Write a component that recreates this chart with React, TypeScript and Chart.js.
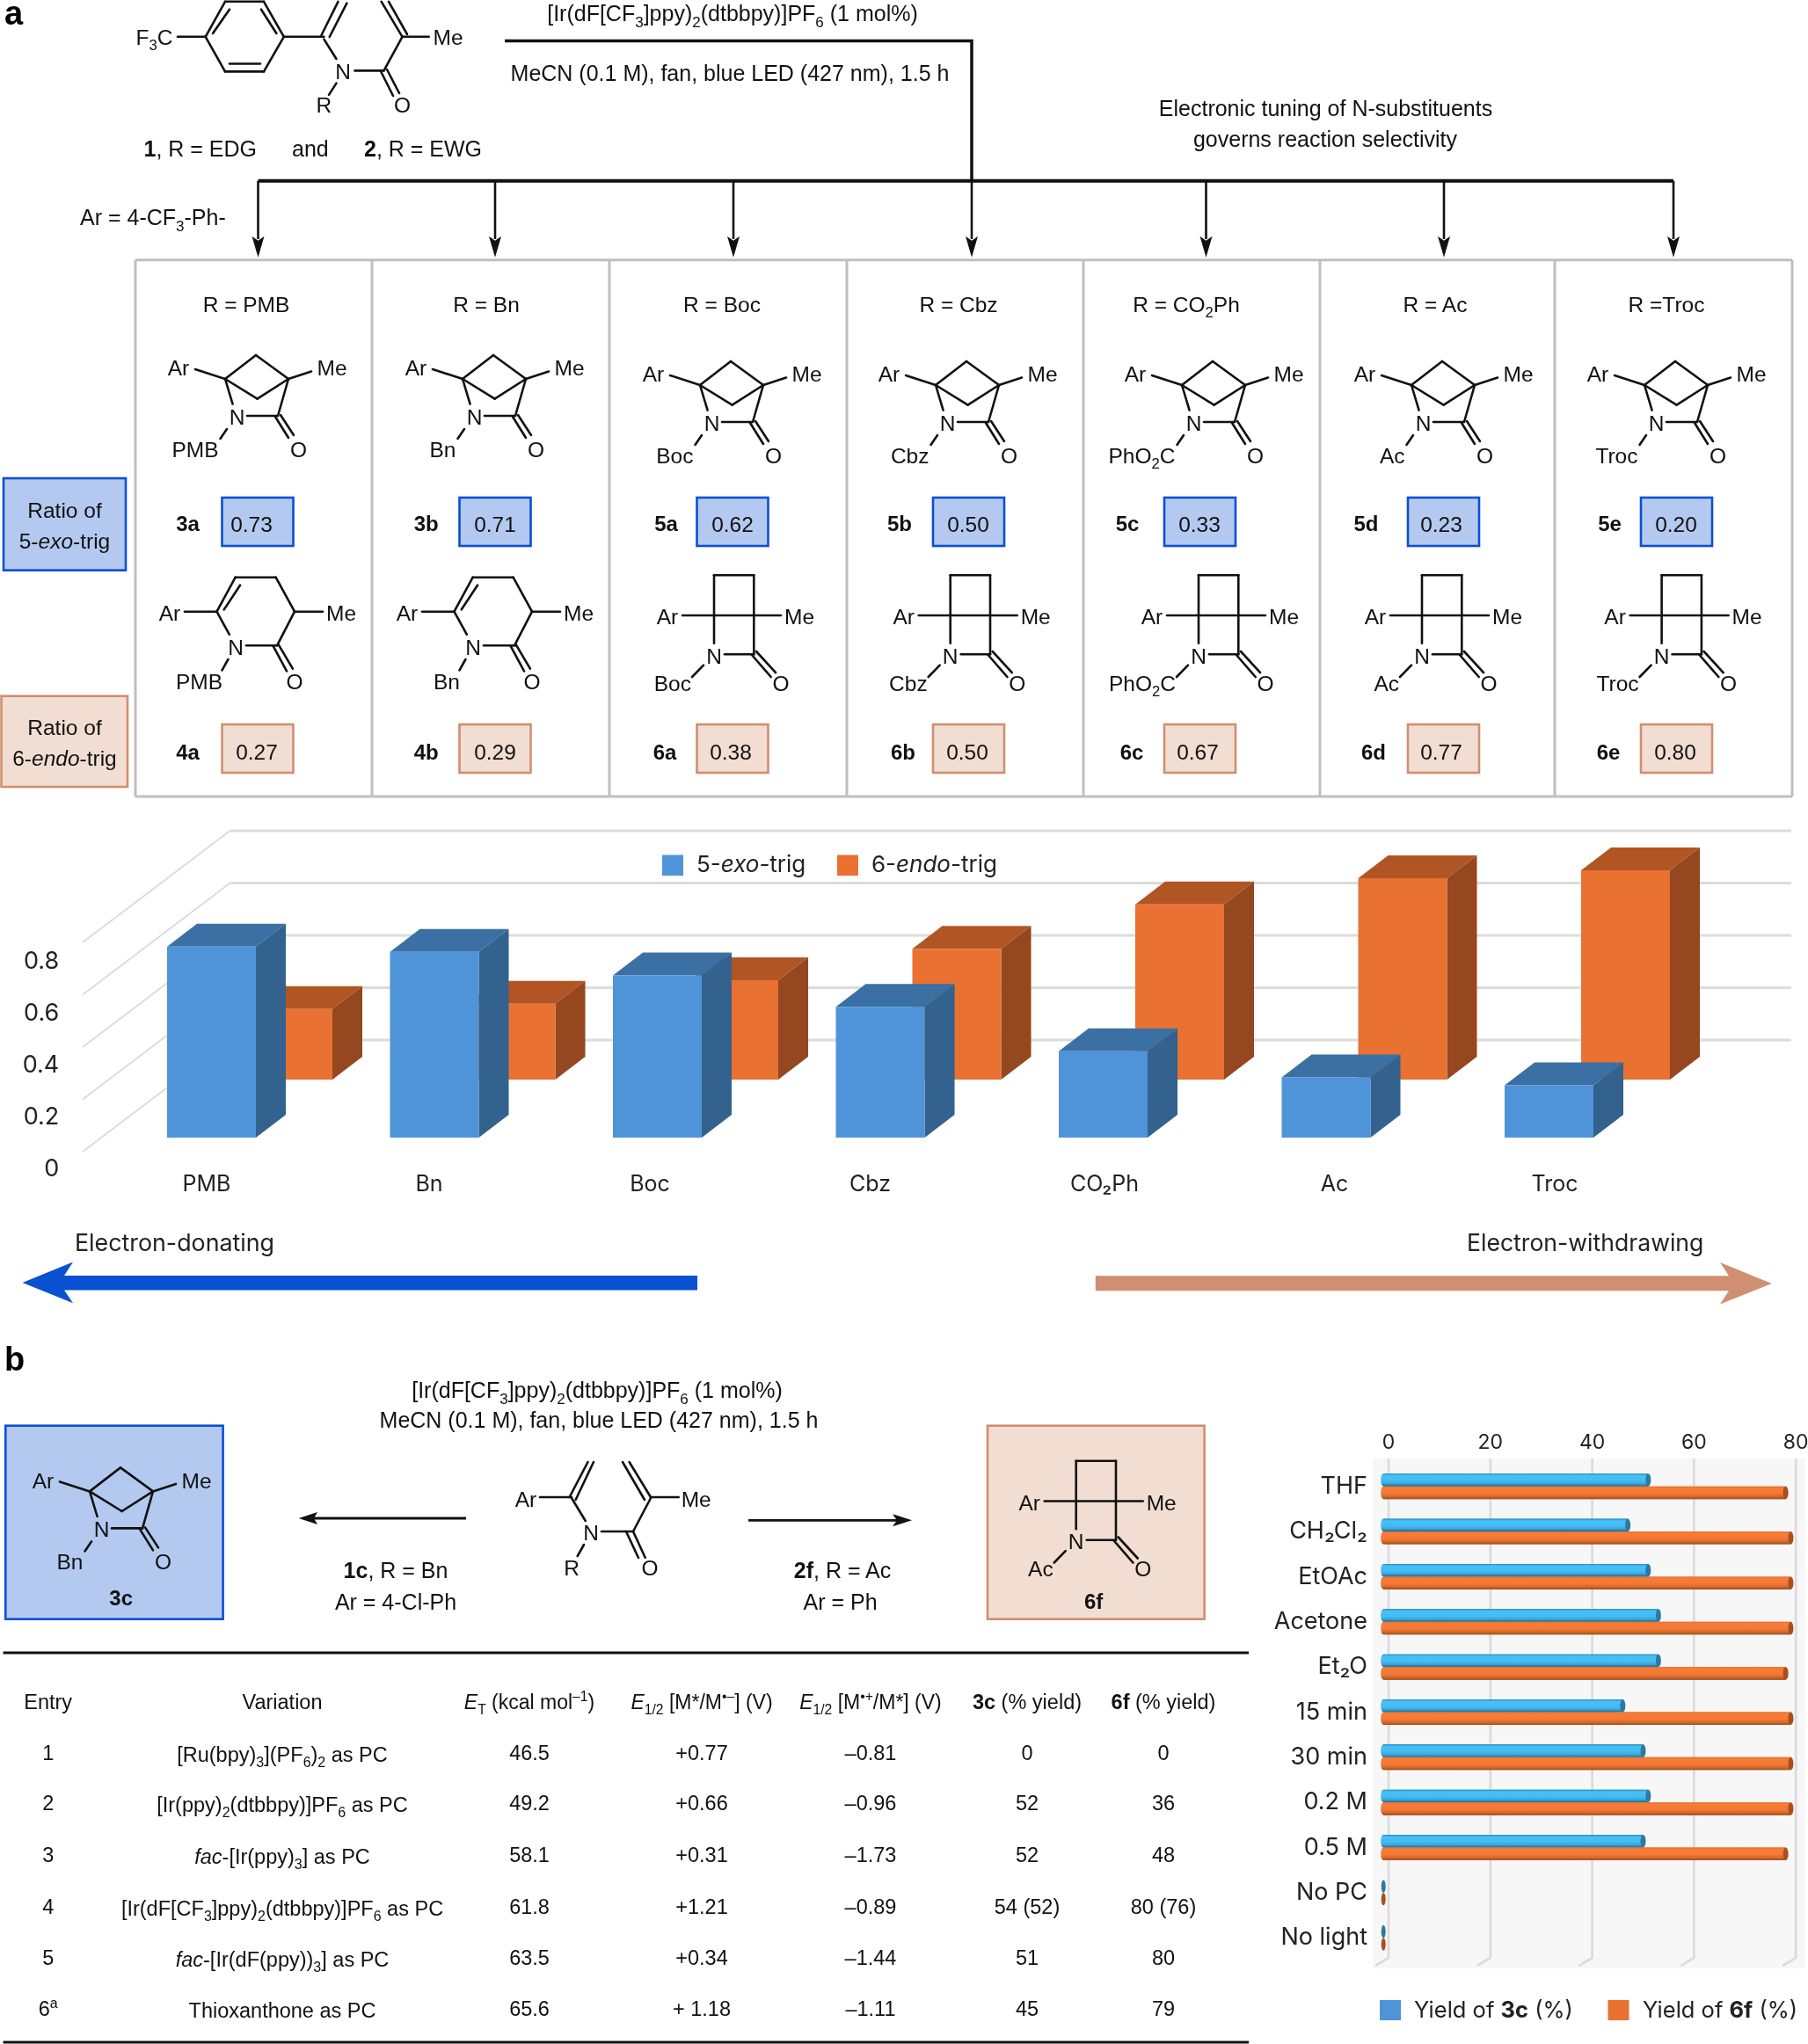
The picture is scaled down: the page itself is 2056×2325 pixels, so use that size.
import React, { useEffect, useRef } from "react";
import Chart from "chart.js/auto";

/* ---------- data ---------- */
const substituents = ["PMB", "Bn", "Boc", "Cbz", "CO₂Ph", "Ac", "Troc"];
const exoRatio = [0.73, 0.71, 0.62, 0.5, 0.33, 0.23, 0.2];
const endoRatio = [0.27, 0.29, 0.38, 0.5, 0.67, 0.77, 0.8];
const ratioTicks = [0, 0.2, 0.4, 0.6, 0.8];

const conditions = ["THF", "CH₂Cl₂", "EtOAc", "Acetone", "Et₂O", "15 min", "30 min", "0.2 M", "0.5 M", "No PC", "No light"];
const yield3c = [51, 47, 51, 53, 53, 46, 50, 51, 50, 0, 0];
const yield6f = [78, 79, 79, 79, 78, 79, 79, 79, 78, 0, 0];
const yieldTicks = [0, 20, 40, 60, 80];

const tableHeader = ["Entry", "Variation", "~E~_{T} (kcal mol^{–1})", "~E~_{1/2} [M*/M^{•–}] (V)", "~E~_{1/2} [M^{•+}/M*] (V)", "#3c# (% yield)", "#6f# (% yield)"];
const tableRows = [
  ["1", "[Ru(bpy)_{3}](PF_{6})_{2} as PC", "46.5", "+0.77", "–0.81", "0", "0"],
  ["2", "[Ir(ppy)_{2}(dtbbpy)]PF_{6} as PC", "49.2", "+0.66", "–0.96", "52", "36"],
  ["3", "~fac~-[Ir(ppy)_{3}] as PC", "58.1", "+0.31", "–1.73", "52", "48"],
  ["4", "[Ir(dF[CF_{3}]ppy)_{2}(dtbbpy)]PF_{6} as PC", "61.8", "+1.21", "–0.89", "54 (52)", "80 (76)"],
  ["5", "~fac~-[Ir(dF(ppy))_{3}] as PC", "63.5", "+0.34", "–1.44", "51", "80"],
  ["6^{a}", "Thioxanthone as PC", "65.6", "+ 1.18", "–1.11", "45", "79"],
];

const panelTitles = ["R = PMB", "R = Bn", "R = Boc", "R = Cbz", "R = CO_{2}Ph", "R = Ac", "R =Troc"];
const rLabels = ["PMB", "Bn", "Boc", "Cbz", "PhO_{2}C", "Ac", "Troc"];
const exoNames = ["3a", "3b", "5a", "5b", "5c", "5d", "5e"];
const endoNames = ["4a", "4b", "6a", "6b", "6c", "6d", "6e"];
const exoValues = ["0.73", "0.71", "0.62", "0.50", "0.33", "0.23", "0.20"];
const endoValues = ["0.27", "0.29", "0.38", "0.50", "0.67", "0.77", "0.80"];

/* ---------- layout constants ---------- */
const SANS = '"Liberation Sans", Arial, sans-serif';
const INTER = 'Inter, "Noto Sans", sans-serif';
const BLUE_EDGE = "#0a50d2";
const BLUE_FILL = "#b4c9f0";
const PINK_EDGE = "#cf8f70";
const PINK_FILL = "#f2ddd2";
const GRID = "#dcdcdc";

const dividerX = [154, 423, 693, 963, 1232, 1501, 1768, 2038];
const dropX = [293.5, 563, 834, 1105, 1371.5, 1642, 1903];
const titleX = [280, 553, 821, 1090, 1349, 1632, 1895];
const boxL = [252.5, 522.5, 792.5, 1061, 1324, 1601, 1866];
const exoNameX = [213.5, 484.7, 757.5, 1023, 1282, 1553.5, 1830.6];
const endoNameX = [213.5, 484.7, 756, 1027, 1287, 1562, 1829];
const exoValX = [286, 563, 833, 1101, 1364, 1639, 1906];
const endoValX = [292, 563, 831, 1100, 1362, 1639, 1905];
const bicycleOffset: number[][] = [[0, 0], [270, 0], [540, 7], [808, 7], [1088, 7], [1349, 7], [1614, 7]];
const azetidineOffset = [0, 268.7, 551, 805, 1077.6];
const xLabelNudge = [-49, -49.5, -52, -55, -42, -34, -37];
const tableColX = [54.7, 321, 602, 798, 990, 1168, 1323];
const tableRowY = [2001.7, 2059, 2117.7, 2176.7, 2235, 2292.7];

/* ---------- rich text ---------- */
function Rich({ x, y, s, size = 25, anchor = "middle", fill = "#111", family = SANS, weight }: any) {
  const re = /_\{([^}]*)\}|\^\{([^}]*)\}|#([^#]+)#|~([^~]+)~|([^_^#~]+)/g;
  const parts: any[] = [];
  let m: any;
  let shift = 0;
  let i = 0;
  while ((m = re.exec(s))) {
    let target = 0;
    let props: any = {};
    let t = m[0];
    if (m[1] !== undefined) { target = size * 0.26; props.fontSize = size * 0.68; t = m[1]; }
    else if (m[2] !== undefined) { target = -size * 0.38; props.fontSize = size * 0.68; t = m[2]; }
    else if (m[3] !== undefined) { props.fontWeight = "bold"; t = m[3]; }
    else if (m[4] !== undefined) { props.fontStyle = "italic"; t = m[4]; }
    parts.push(<tspan key={i++} dy={target - shift} {...props}>{t}</tspan>);
    shift = target;
  }
  return (
    <text x={x} y={y} fontSize={size} textAnchor={anchor} fill={fill} fontFamily={family} fontWeight={weight} style={{ whiteSpace: "pre" }}>
      {parts}
    </text>
  );
}

function Bonds({ segs, dx = 0, dy = 0, w = 2.6 }: any) {
  return (
    <g stroke="#111" strokeWidth={w} strokeLinecap="round" fill="none">
      {segs.map((s: number[], i: number) => (
        <line key={i} x1={s[0] + dx} y1={s[1] + dy} x2={s[2] + dx} y2={s[3] + dy} />
      ))}
    </g>
  );
}

const CHEM = 24.5;
const Atom = ({ x, cy, s, anchor = "middle" }: any) => <Rich x={x} y={cy + 8.6} s={s} size={CHEM} anchor={anchor} />;

const bicycleSegs = [
  [222, 420, 256, 431], [256, 431, 291, 404], [291, 404, 328, 431], [256, 431, 292.6, 453.6], [292.6, 453.6, 328, 431],
  [256, 431, 264.6, 459.6], [328, 431, 316, 473], [281, 473, 316, 473], [313, 474, 328, 498], [319, 472, 334, 495],
  [258, 488, 250.5, 499], [328, 431, 354, 422.5],
];
function Bicycle({ dx, dy, r }: any) {
  return (
    <g>
      <Bonds segs={bicycleSegs} dx={dx} dy={dy} />
      <Atom x={203 + dx} cy={418.6 + dy} s="Ar" />
      <Atom x={377.5 + dx} cy={418.6 + dy} s="Me" />
      <Atom x={269.5 + dx} cy={474 + dy} s="N" />
      <Atom x={339.6 + dx} cy={511 + dy} s="O" />
      <Atom x={248.5 + dx} cy={511 + dy} s={r} anchor="end" />
    </g>
  );
}
const cyclohexSegs = [
  [210, 695.7, 246.5, 695.7], [246.5, 695.7, 267.7, 656.7], [267.7, 656.7, 313.6, 656.7], [313.6, 656.7, 335, 695.7],
  [335, 695.7, 315, 734.3], [254.8, 693.3, 273, 665.7], [246.5, 695.7, 260.8, 721.7], [280, 734.3, 315, 734.3],
  [310.4, 734.3, 326, 763.3], [316.8, 733.3, 332.9, 760.7], [335, 695.7, 367, 695.7], [259.4, 750, 252.5, 762.3],
];
function Cyclohex({ dx, r }: any) {
  return (
    <g>
      <Bonds segs={cyclohexSegs} dx={dx} />
      <Atom x={193 + dx} cy={697.7} s="Ar" />
      <Atom x={388 + dx} cy={697.7} s="Me" />
      <Atom x={268 + dx} cy={736} s="N" />
      <Atom x={335 + dx} cy={775} s="O" />
      <Atom x={253 + dx} cy={775} s={r} anchor="end" />
    </g>
  );
}
const azetidineSegs = [
  [776, 700, 888, 700], [812, 654.3, 857.3, 654.3], [812, 654.3, 812, 731.7], [857.3, 654.3, 857.3, 744.3], [824, 744.3, 857.3, 744.3],
  [855, 745, 876.7, 770], [860, 741, 882, 765], [800, 756.7, 787, 770],
];
function Azetidine({ dx, dy = 0, r }: any) {
  return (
    <g>
      <Bonds segs={azetidineSegs} dx={dx} dy={dy} />
      <Atom x={759 + dx} cy={701.7 + dy} s="Ar" />
      <Atom x={909 + dx} cy={701.7 + dy} s="Me" />
      <Atom x={812 + dx} cy={746 + dy} s="N" />
      <Atom x={888 + dx} cy={777 + dy} s="O" />
      <Atom x={786 + dx} cy={777 + dy} s={r} anchor="end" />
    </g>
  );
}

const reactantASegs = [
  [202, 41.8, 233.7, 41.8], [233.7, 41.8, 256, 1.8], [256, 1.8, 300, 1.8], [300, 1.8, 322.8, 41.8], [322.8, 41.8, 300, 81.4],
  [300, 81.4, 256, 81.4], [256, 81.4, 233.7, 41.8], [261, 10.7, 242, 38], [297, 10.7, 314.4, 38], [261, 72.5, 296, 72.5],
  [322.8, 41.8, 368.4, 41.8], [365, 41, 384.5, 1.8], [374.7, 42, 394.4, 3.6], [368.4, 44.6, 382.5, 67], [403.5, 80.4, 436.5, 80.4],
  [433, 81, 447, 109], [440, 79, 454, 106], [382.5, 94.6, 374, 107.9], [436.5, 80.4, 457.5, 41.8], [457.5, 41.8, 433.7, 1.8],
  [463, 39, 442, 1.8], [457.5, 41.8, 487.7, 41.8],
];
const reactantBSegs = [
  [614, 1703, 650, 1703], [647.6, 1703, 668.5, 1663], [654.6, 1706, 675, 1663], [650, 1704, 665.8, 1730], [684, 1742, 720, 1742],
  [720, 1742, 733.7, 1771.7], [712, 1742, 726, 1772], [664, 1757, 656.7, 1770], [720, 1742, 740, 1704], [740, 1703, 715.6, 1663],
  [733, 1706, 708, 1663], [740, 1703, 771.7, 1703],
];

function Arrowhead({ x, tip }: any) {
  return <polygon points={`${x},${tip} ${x - 7},${tip - 24} ${x},${tip - 19} ${x + 7},${tip - 24}`} fill="#111" />;
}

/* ---------- chart helpers ---------- */
function ChartCanvas({ make, style, width, height }: any) {
  const ref = useRef<HTMLCanvasElement>(null);
  useEffect(() => {
    const chart = new Chart(ref.current as any, make());
    return () => chart.destroy();
  }, []);
  return <canvas ref={ref} width={width} height={height} style={{ position: "absolute", display: "block", ...style }} />;
}

const clearPad = (s: any) => {
  s.paddingTop = 0;
  s.paddingBottom = 0;
  s.paddingLeft = 0;
  s.paddingRight = 0;
};

const PX_PER_UNIT = 297.5;
const C1_TOP = 935;
const C1_BOTTOM = 1330;
const C1_CANVAS_TOP = 930;
const BASE_EXO = 1294;
const BASE_ENDO = 1228;
const LABEL_ZERO = 1330;

function makeRatioChart() {
  const depthPlugin = {
    id: "depth3d",
    beforeDatasetDraw(chart: any, args: any) {
      const ctx = chart.ctx;
      const tops = ["#3b70a4", "#b25525"];
      const sides = ["#33628e", "#95471f"];
      const dx = 34;
      const dy = 26;
      ctx.save();
      args.meta.data.forEach((bar: any) => {
        const p = bar.getProps(["x", "y", "base", "width"], true);
        const l = p.x - p.width / 2;
        const r = p.x + p.width / 2;
        ctx.fillStyle = tops[args.index];
        ctx.beginPath();
        ctx.moveTo(l, p.y);
        ctx.lineTo(l + dx, p.y - dy);
        ctx.lineTo(r + dx, p.y - dy);
        ctx.lineTo(r, p.y);
        ctx.closePath();
        ctx.fill();
        ctx.fillStyle = sides[args.index];
        ctx.beginPath();
        ctx.moveTo(r, p.y);
        ctx.lineTo(r + dx, p.y - dy);
        ctx.lineTo(r + dx, p.base - dy);
        ctx.lineTo(r, p.base);
        ctx.closePath();
        ctx.fill();
      });
      ctx.restore();
    },
  };
  const wallPlugin = {
    id: "wall3d",
    beforeDatasetsDraw(chart: any) {
      const ctx = chart.ctx;
      const y = chart.scales.y;
      ctx.save();
      ctx.strokeStyle = GRID;
      ratioTicks.forEach((v) => {
        const p = y.getPixelForValue(v);
        ctx.lineWidth = 2;
        ctx.beginPath();
        ctx.moveTo(94, p + 16);
        ctx.lineTo(261.5, p - 111);
        ctx.stroke();
        ctx.lineWidth = 3;
        ctx.beginPath();
        ctx.moveTo(261.5, p - 111);
        ctx.lineTo(2037, p - 111);
        ctx.stroke();
      });
      ctx.restore();
    },
    beforeDraw(chart: any) {
      const items = chart.scales.x.getLabelItems();
      if (items.__nudged) return;
      items.forEach((it: any, i: number) => { it.options.translation[0] += xLabelNudge[i]; });
      items.__nudged = true;
    },
  };
  const top = C1_TOP - C1_CANVAS_TOP;
  const bottom = C1_BOTTOM - C1_CANVAS_TOP;
  const span = (zero: number, k: number) => ({
    min: -(bottom - (zero - C1_CANVAS_TOP)) / k,
    max: (zero - C1_CANVAS_TOP - top) / k,
  });
  return {
    type: "bar",
    data: {
      labels: substituents,
      datasets: [
        { label: "5-exo-trig", data: exoRatio, backgroundColor: "#4f94d8", yAxisID: "y", categoryPercentage: 174 / 253.5, barPercentage: 101 / 87 },
        { label: "6-endo-trig", data: endoRatio, backgroundColor: "#e97132", yAxisID: "y2", categoryPercentage: 174 / 253.5, barPercentage: 101 / 87 },
      ],
    },
    plugins: [wallPlugin, depthPlugin],
    options: {
      animation: false,
      responsive: false,
      devicePixelRatio: 1,
      layout: { padding: { top, right: 2056 - 1931.75, left: 0, bottom: 0 } },
      plugins: { legend: { display: false }, tooltip: { enabled: false } },
      scales: {
        x: {
          grid: { display: false, drawTicks: false },
          border: { display: false },
          afterFit: (s: any) => { s.height = 40; clearPad(s); },
          ticks: { font: { family: INTER, size: 25 }, color: "#222", padding: 2, maxRotation: 0, autoSkip: false },
        },
        y: { display: false, afterFit: clearPad, ...span(BASE_EXO, PX_PER_UNIT) },
        y2: { display: false, afterFit: clearPad, ...span(BASE_ENDO, PX_PER_UNIT) },
        yLabels: {
          position: "left",
          ...span(LABEL_ZERO, 295),
          min: 0,
          grid: { display: false, drawTicks: false },
          border: { display: false },
          afterFit: (s: any) => { s.width = 157.25; clearPad(s); },
          afterBuildTicks: (s: any) => { s.ticks = ratioTicks.map((value) => ({ value })); },
          ticks: { font: { family: INTER, size: 27 }, color: "#222", padding: 90, callback: (v: any) => String(v) },
        },
      },
    },
  };
}

const C2_LEFT = 1420;
const C2_TOP = 1610;
function makeYieldChart() {
  const PX = 5.79;
  const ZERO = 1579;
  const panelPlugin = {
    id: "panel3d",
    beforeDraw(chart: any) {
      const { ctx, chartArea: a, scales } = chart;
      ctx.save();
      ctx.fillStyle = "#f7f7f7";
      ctx.fillRect(a.left, a.top - 6, a.right - a.left, a.bottom - a.top + 15);
      ctx.strokeStyle = GRID;
      ctx.lineWidth = 2.8;
      yieldTicks.forEach((v) => {
        const x = scales.x.getPixelForValue(v);
        ctx.beginPath();
        ctx.moveTo(x, a.top - 6);
        ctx.lineTo(x, a.bottom - 3);
        ctx.lineTo(x - 15, a.bottom + 6);
        ctx.stroke();
      });
      ctx.restore();
    },
  };
  const cylinderPlugin = {
    id: "cylinder",
    afterDatasetsDraw(chart: any) {
      const ctx = chart.ctx;
      const skins = [
        { stops: ["#2a86b2", "#46c0f8", "#44bcf4", "#3aa8dc", "#1f6489"], cap: "#2c7aa0" },
        { stops: ["#e8702f", "#f87c38", "#f47935", "#d96a2c", "#9a4d20"], cap: "#a84f20" },
      ];
      chart.getSortedVisibleDatasetMetas().forEach((meta: any) => {
        const skin = skins[meta.index];
        meta.data.forEach((bar: any, i: number) => {
          const p = bar.getProps(["x", "y", "base", "height"], true);
          const h = p.height;
          const t = p.y - h / 2;
          ctx.save();
          if (chart.data.datasets[meta.index].data[i] === 0) {
            ctx.fillStyle = skin.cap;
            ctx.beginPath();
            ctx.ellipse(p.base, p.y, 2.5, h / 2, 0, 0, Math.PI * 2);
            ctx.fill();
            ctx.restore();
            return;
          }
          const g = ctx.createLinearGradient(0, t, 0, t + h);
          g.addColorStop(0, skin.stops[0]);
          g.addColorStop(0.15, skin.stops[1]);
          g.addColorStop(0.55, skin.stops[2]);
          g.addColorStop(0.78, skin.stops[3]);
          g.addColorStop(1, skin.stops[4]);
          ctx.fillStyle = g;
          ctx.beginPath();
          ctx.ellipse(p.base, p.y, 3, h / 2, 0, Math.PI / 2, (Math.PI * 3) / 2);
          ctx.lineTo(p.x, t);
          ctx.lineTo(p.x, t + h);
          ctx.closePath();
          ctx.fill();
          ctx.fillStyle = skin.cap;
          ctx.beginPath();
          ctx.ellipse(p.x, p.y, 3, h / 2, 0, 0, Math.PI * 2);
          ctx.fill();
          ctx.restore();
        });
      });
    },
  };
  const base = -1;
  const hideZero = (color: string) => (c: any) => (c.raw === 0 ? "transparent" : color);
  return {
    type: "bar",
    data: {
      labels: conditions,
      datasets: [
        { label: "Yield of 3c (%)", data: yield3c, base, backgroundColor: hideZero("#44bcf4"), categoryPercentage: 29 / 51.4, barPercentage: 1 },
        { label: "Yield of 6f (%)", data: yield6f, base, backgroundColor: hideZero("#f47935"), categoryPercentage: 29 / 51.4, barPercentage: 1 },
      ],
    },
    plugins: [panelPlugin, cylinderPlugin],
    options: {
      indexAxis: "y",
      animation: false,
      responsive: false,
      devicePixelRatio: 1,
      layout: { padding: { right: 3, bottom: 20, top: 0, left: 0 } },
      plugins: { legend: { display: false }, tooltip: { enabled: false } },
      scales: {
        x: {
          position: "top",
          min: (1561 - ZERO) / PX,
          max: (2053 - ZERO) / PX,
          grid: { display: false, drawTicks: false },
          border: { display: false },
          afterFit: (s: any) => { s.height = 55; clearPad(s); },
          afterBuildTicks: (s: any) => { s.ticks = yieldTicks.map((value) => ({ value })); },
          ticks: { font: { family: INTER, size: 23 }, color: "#222", padding: 10, maxRotation: 0 },
        },
        y: {
          grid: { display: false, drawTicks: false },
          border: { display: false },
          afterFit: (s: any) => { s.width = 141; clearPad(s); },
          ticks: { font: { family: INTER, size: 27 }, color: "#222", padding: 6, autoSkip: false },
        },
      },
    },
  };
}

/* ---------- figure ---------- */
export default function App() {
  return (
    <div style={{ position: "absolute", left: 0, top: 0, width: 2056, height: 2325, background: "#fff", overflow: "hidden" }}>
      <ChartCanvas make={makeRatioChart} width={2056} height={440} style={{ left: 0, top: C1_CANVAS_TOP }} />
      <ChartCanvas make={makeYieldChart} width={636} height={640} style={{ left: C2_LEFT, top: C2_TOP }} />
      <svg width={2056} height={2325} style={{ position: "absolute", left: 0, top: 0, pointerEvents: "none" }}>
        <Rich x={5} y={28} s="#a#" size={38} anchor="start" fill="#000" />
        <Rich x={5} y={1559} s="#b#" size={38} anchor="start" fill="#000" />

        {/* reactant, panel a */}
        <Bonds segs={reactantASegs} />
        <Rich x={175.4} y={51} s="F_{3}C" size={CHEM} />
        <Atom x={509.5} cy={42} s="Me" />
        <Atom x={390} cy={81.4} s="N" />
        <Atom x={457.5} cy={119.6} s="O" />
        <Atom x={368.4} cy={119.6} s="R" />
        <Rich x={163.5} y={178} s="#1#, R = EDG" size={25} anchor="start" />
        <Rich x={332} y={178} s="and" size={25} anchor="start" />
        <Rich x={414} y={178} s="#2#, R = EWG" size={25} anchor="start" />
        <Rich x={91} y={256} s="Ar = 4-CF_{3}-Ph-" size={25} anchor="start" />
        <Rich x={833} y={24} s="[Ir(dF[CF_{3}]ppy)_{2}(dtbbpy)]PF_{6} (1 mol%)" />
        <Rich x={830} y={92} s="MeCN (0.1 M), fan, blue LED (427 nm), 1.5 h" />
        <Rich x={1507.5} y={131.5} s="Electronic tuning of N-substituents" />
        <Rich x={1507} y={166.5} s="governs reaction selectivity" />

        {/* arrows */}
        <g stroke="#111" fill="none">
          <path d="M574 46.4H1105V205" strokeWidth={3.5} />
          <line x1={293.5} y1={205.7} x2={1903} y2={205.7} strokeWidth={4} />
          {dropX.map((x) => <line key={x} x1={x} y1={205.7} x2={x} y2={272} strokeWidth={2.6} />)}
        </g>
        {dropX.map((x) => <Arrowhead key={x} x={x} tip={292.7} />)}

        {/* panel frame */}
        <g stroke="#bfbfbf" strokeWidth={3}>
          <line x1={154} y1={295.7} x2={2038} y2={295.7} />
          <line x1={154} y1={906} x2={2038} y2={906} />
          {dividerX.map((x) => <line key={x} x1={x} y1={295.7} x2={x} y2={906} />)}
        </g>
        {panelTitles.map((t, i) => <Rich key={i} x={titleX[i]} y={354.6} s={t} size={24.5} />)}
        {rLabels.map((r, i) => <Bicycle key={i} dx={bicycleOffset[i][0]} dy={bicycleOffset[i][1]} r={r} />)}
        <Cyclohex dx={0} r={rLabels[0]} />
        <Cyclohex dx={270} r={rLabels[1]} />
        {azetidineOffset.map((dx, i) => <Azetidine key={i} dx={dx} r={rLabels[i + 2]} />)}
        {exoNames.map((n, i) => (
          <g key={n}>
            <Rich x={exoNameX[i]} y={604} s={`#${n}#`} size={24} />
            <rect x={boxL[i]} y={566} width={81} height={55} fill={BLUE_FILL} stroke={BLUE_EDGE} strokeWidth={2.6} />
            <Rich x={exoValX[i]} y={605} s={exoValues[i]} size={24.5} />
            <Rich x={endoNameX[i]} y={864} s={`#${endoNames[i]}#`} size={24} />
            <rect x={boxL[i]} y={824} width={81} height={55} fill={PINK_FILL} stroke={PINK_EDGE} strokeWidth={2.6} />
            <Rich x={endoValX[i]} y={864} s={endoValues[i]} size={24.5} />
          </g>
        ))}
        <rect x={4} y={544} width={139} height={104.7} fill={BLUE_FILL} stroke={BLUE_EDGE} strokeWidth={2.6} />
        <Rich x={73.5} y={588.7} s="Ratio of" size={24.5} />
        <Rich x={73.5} y={624} s="5-~exo~-trig" size={24.5} />
        <rect x={1.5} y={791.7} width={143.5} height={103.3} fill={PINK_FILL} stroke={PINK_EDGE} strokeWidth={2.6} />
        <Rich x={73.5} y={835.7} s="Ratio of" size={24.5} />
        <Rich x={73.5} y={870.7} s="6-~endo~-trig" size={24.5} />

        {/* legend of the 3D chart */}
        <rect x={753} y={972.5} width={24} height={23.5} fill="#4f94d8" />
        <Rich x={792} y={991.5} s="5-~exo~-trig" size={26} anchor="start" family={INTER} fill="#222" />
        <rect x={952} y={972.5} width={24} height={23.5} fill="#e97132" />
        <Rich x={991} y={991.5} s="6-~endo~-trig" size={26} anchor="start" family={INTER} fill="#222" />

        {/* electron arrows */}
        <Rich x={85} y={1423} s="Electron-donating" size={26.8} anchor="start" family={INTER} fill="#222" />
        <Rich x={1668} y={1423} s="Electron-withdrawing" size={26.6} anchor="start" family={INTER} fill="#222" />
        <polygon points="25.5,1459 83,1435.4 73,1451 793,1451 793,1467.5 73,1467.5 83,1482.3" fill={BLUE_EDGE} />
        <polygon points="2014.8,1460 1956,1436 1966,1451.3 1245.8,1451.3 1245.8,1468.3 1966,1468.3 1956,1483.4" fill={PINK_EDGE} />

        {/* panel b scheme */}
        <rect x={6.3} y={1621.7} width={247.3} height={220} fill={BLUE_FILL} stroke={BLUE_EDGE} strokeWidth={2.6} />
        <Bicycle dx={-154} dy={1265.4} r="Bn" />
        <Rich x={137.7} y={1826} s="#3c#" size={24} />
        <rect x={1123} y={1621.7} width={246.6} height={220} fill={PINK_FILL} stroke={PINK_EDGE} strokeWidth={2.6} />
        <Azetidine dx={411.7} dy={1007.5} r="Ac" />
        <Rich x={1243.6} y={1830} s="#6f#" size={24} />
        <Bonds segs={reactantBSegs} />
        <Atom x={598} cy={1705.7} s="Ar" />
        <Atom x={791.7} cy={1705.7} s="Me" />
        <Atom x={672} cy={1743} s="N" />
        <Atom x={739} cy={1783} s="O" />
        <Atom x={650} cy={1783} s="R" />
        <Rich x={679} y={1590} s="[Ir(dF[CF_{3}]ppy)_{2}(dtbbpy)]PF_{6} (1 mol%)" />
        <Rich x={681} y={1624} s="MeCN (0.1 M), fan, blue LED (427 nm), 1.5 h" />
        <Rich x={450} y={1795} s="#1c#, R = Bn" size={25} />
        <Rich x={450} y={1831} s="Ar = 4-Cl-Ph" size={25} />
        <Rich x={958} y={1795} s="#2f#, R = Ac" size={25} />
        <Rich x={955.6} y={1831} s="Ar = Ph" size={25} />
        <g stroke="#111" strokeWidth={2.8}>
          <line x1={345} y1={1727} x2={530} y2={1727} />
          <line x1={851} y1={1729.3} x2={1030} y2={1729.3} />
        </g>
        <polygon points="339.7,1727 361,1720 357,1727 361,1734" fill="#111" />
        <polygon points="1037,1729.3 1015,1722.3 1020,1729.3 1015,1736.3" fill="#111" />

        {/* table */}
        <g stroke="#111" strokeWidth={3}>
          <line x1={3.6} y1={1880} x2={1420} y2={1880} />
          <line x1={3.6} y1={2323} x2={1420} y2={2323} />
        </g>
        {tableHeader.map((h, c) => (
          <Rich key={c} x={tableColX[c]} y={1944} s={h} size={c < 2 || c > 4 ? 23.5 : 23} />
        ))}
        {tableRows.map((row, r) =>
          row.map((cell, c) => (
            <Rich key={`${r}-${c}`} x={tableColX[c]} y={tableRowY[r] + (c === 1 ? 2 : 0)} s={cell} size={23.5} />
          ))
        )}

        {/* legend of the yield chart */}
        <rect x={1569} y={2275} width={24} height={23} fill="#4f94d8" />
        <Rich x={1608} y={2295} s="Yield of #3c# (%)" size={25.5} anchor="start" family={INTER} fill="#222" />
        <rect x={1828.5} y={2275} width={24} height={23} fill="#e97132" />
        <Rich x={1868} y={2295} s="Yield of #6f# (%)" size={25.5} anchor="start" family={INTER} fill="#222" />
      </svg>
    </div>
  );
}
